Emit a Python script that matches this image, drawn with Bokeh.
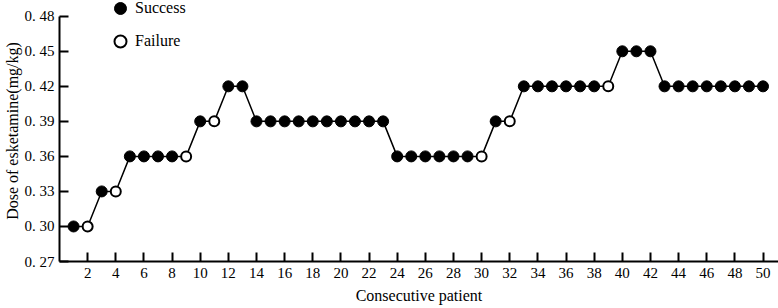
from bokeh.plotting import figure
from bokeh.models import ColumnDataSource, FixedTicker, Legend, LegendItem, Range1d
from bokeh.embed import file_html
from bokeh.resources import INLINE

patients = list(range(1, 51))
doses = [0.30, 0.30, 0.33, 0.33, 0.36, 0.36, 0.36, 0.36, 0.36, 0.39,
         0.39, 0.42, 0.42, 0.39, 0.39, 0.39, 0.39, 0.39, 0.39, 0.39,
         0.39, 0.39, 0.39, 0.36, 0.36, 0.36, 0.36, 0.36, 0.36, 0.36,
         0.39, 0.39, 0.42, 0.42, 0.42, 0.42, 0.42, 0.42, 0.42, 0.45,
         0.45, 0.45, 0.42, 0.42, 0.42, 0.42, 0.42, 0.42, 0.42, 0.42]
outcomes = ["S", "F", "S", "F", "S", "S", "S", "S", "F", "S",
            "F", "S", "S", "S", "S", "S", "S", "S", "S", "S",
            "S", "S", "S", "S", "S", "S", "S", "S", "S", "F",
            "S", "F", "S", "S", "S", "S", "S", "S", "F", "S",
            "S", "S", "S", "S", "S", "S", "S", "S", "S", "S"]
y_ticks = [0.27, 0.30, 0.33, 0.36, 0.39, 0.42, 0.45, 0.48]
x_ticks = list(range(2, 51, 2))

FONT = "Liberation Serif"

succ = ColumnDataSource(dict(
    x=[p for p, o in zip(patients, outcomes) if o == "S"],
    y=[d for d, o in zip(doses, outcomes) if o == "S"]))
fail = ColumnDataSource(dict(
    x=[p for p, o in zip(patients, outcomes) if o == "F"],
    y=[d for d, o in zip(doses, outcomes) if o == "F"]))

p = figure(width=778, height=308, output_backend="svg", toolbar_location=None,
           x_range=Range1d(0, 51.1), y_range=Range1d(0.27, 0.4935),
           min_border_top=0, min_border_right=0, min_border_left=59,
           min_border_bottom=47)
p.outline_line_color = None
p.xgrid.visible = False
p.ygrid.visible = False

p.line(patients, doses, line_color="black", line_width=1.5)
r_s = p.scatter("x", "y", source=succ, size=11, fill_color="black",
                line_color="black", line_width=1)
r_f = p.scatter("x", "y", source=fail, size=10, fill_color="white",
                line_color="black", line_width=2)

for ax in (p.xaxis[0], p.yaxis[0]):
    ax.axis_line_width = 2
    ax.axis_line_color = "black"
    ax.major_tick_line_width = 2
    ax.major_tick_line_color = "black"
    ax.major_tick_in = 9
    ax.major_tick_out = 0
    ax.minor_tick_line_color = None
    ax.major_label_text_font = FONT
    ax.major_label_text_font_size = "15px"
    ax.major_label_text_color = "black"
    ax.axis_label_text_font = FONT
    ax.axis_label_text_font_size = "16px"
    ax.axis_label_text_font_style = "normal"
    ax.axis_label_text_color = "black"

p.xaxis.ticker = FixedTicker(ticks=x_ticks)
p.yaxis.ticker = FixedTicker(ticks=y_ticks)
p.yaxis.major_label_overrides = {t: ("%.2f" % t).replace(".", ". ") for t in y_ticks}
p.yaxis.bounds = (0.27, 0.48)
p.xaxis.axis_label = "Consecutive patient"
p.yaxis.axis_label = "Dose of esketamine(mg/kg)"
p.xaxis.major_label_standoff = 6
p.xaxis.axis_label_standoff = 6
p.yaxis.major_label_standoff = 5
p.yaxis.axis_label_standoff = 1

legend = Legend(items=[LegendItem(label="Success", renderers=[r_s]),
                       LegendItem(label="Failure", renderers=[r_f])],
                location=(46, 205), orientation="vertical",
                glyph_width=30, glyph_height=30, label_height=30,
                spacing=3, padding=0, margin=0, label_standoff=0,
                border_line_color=None, background_fill_alpha=0,
                label_text_font=FONT, label_text_font_size="16px",
                label_text_color="black")
p.add_layout(legend, "center")

open("out.html", "w").write(file_html(p, INLINE))
